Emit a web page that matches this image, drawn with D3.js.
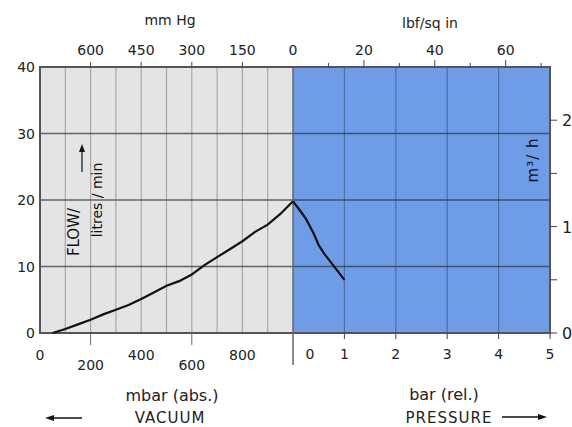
<!DOCTYPE html>
<html><head><meta charset="utf-8">
<script src="https://cdn.jsdelivr.net/npm/d3@7"></script>
<style>
body{margin:0;background:#fff;}
svg{display:block;font-family:"DejaVu Sans",sans-serif;}
</style></head>
<body><svg id="c" width="572" height="427"></svg>
<script>
// Data
const vacuumMbar = [50,100,150,200,250,300,350,400,450,500,550,600,650,700,750,800,850,900,950,1000];
const vacuumFlow = [0,0.6,1.3,2.0,2.8,3.5,4.2,5.1,6.1,7.1,7.8,8.8,10.2,11.4,12.6,13.8,15.2,16.3,17.9,19.8];
const pressureBar = [0,0.1,0.25,0.4,0.5,0.6,0.75,0.9,1.0];
const pressureFlow = [19.8,18.8,17.2,15.0,13.2,12.0,10.5,9.0,8.0];
const flowTicks = [0,10,20,30,40];
const mbarTicks = [0,200,400,600,800];
const barTicks = [0,1,2,3,4,5];
const mmHgTicks = [600,450,300,150,0];
const psiTicks = [20,40,60];
const m3hTicks = [0,1,2];

const svg = d3.select("#c");
const L=40, M=293, R=550, T=67, B=333;
const xV = d3.scaleLinear().domain([0,1000]).range([L,M]);
const xP = d3.scaleLinear().domain([0,5]).range([M,R]);
const y = d3.scaleLinear().domain([0,40]).range([B,T]);
const yR = d3.scaleLinear().domain([0,2.5]).range([B,T]);
const xHg = d3.scaleLinear().domain([750,0]).range([L,M]);
const xPsi = d3.scaleLinear().domain([0,72.5]).range([M,R]);

// backgrounds
svg.append("rect").attr("x",L).attr("y",T).attr("width",M-L).attr("height",B-T).attr("fill","#e4e4e4");
svg.append("rect").attr("x",M).attr("y",T).attr("width",R-M).attr("height",B-T).attr("fill","#6e9ce6");

// vertical grid
svg.append("g").selectAll("line").data(d3.range(100,1000,100)).join("line")
  .attr("x1",d=>xV(d)).attr("x2",d=>xV(d)).attr("y1",T).attr("y2",B)
  .attr("stroke","#a8a8a8").attr("stroke-width",1.2);
svg.append("g").selectAll("line").data([1,2,3,4]).join("line")
  .attr("x1",d=>xP(d)).attr("x2",d=>xP(d)).attr("y1",T).attr("y2",B)
  .attr("stroke","#4a6ea8").attr("stroke-width",1.2);
// horizontal grid
svg.append("g").selectAll("line").data([10,20,30]).join("line")
  .attr("x1",L).attr("x2",R).attr("y1",d=>y(d)).attr("y2",d=>y(d))
  .attr("stroke","#333a48").attr("stroke-opacity",0.75).attr("stroke-width",1.6);

// frame
svg.append("rect").attr("x",L).attr("y",T).attr("width",R-L).attr("height",B-T)
  .attr("fill","none").attr("stroke","#555").attr("stroke-width",2);
svg.append("line").attr("x1",M).attr("x2",M).attr("y1",T).attr("y2",B+32)
  .attr("stroke","#666").attr("stroke-width",1.5);

// curves
const line = (xs)=>d3.line().x(d=>xs(d[0])).y(d=>y(d[1])).curve(d3.curveLinear);
svg.append("path").datum(vacuumMbar.map((m,i)=>[m,vacuumFlow[i]]))
  .attr("d",line(xV)).attr("fill","none").attr("stroke","#111").attr("stroke-width",2.2);
svg.append("path").datum(pressureBar.map((b,i)=>[b,pressureFlow[i]]))
  .attr("d",line(xP)).attr("fill","none").attr("stroke","#111").attr("stroke-width",2.2);

const txt = (x,yy,s,opt={})=>svg.append("text").attr("x",x).attr("y",yy).text(s)
  .attr("font-size",opt.fs||13).attr("fill",opt.fill||"#222").attr("text-anchor",opt.anchor||"middle")
  .attr("letter-spacing",opt.ls||0);

// left axis labels
flowTicks.forEach(d=>txt(35,y(d)+5,d,{anchor:"end",fs:14}));
// bottom vacuum labels (staggered)
mbarTicks.forEach((d,i)=>txt(xV(d),(i%2? 370:360),d,{fs:14}));
svg.append("g").selectAll("line").data([200,600]).join("line")
  .attr("x1",d=>xV(d)).attr("x2",d=>xV(d)).attr("y1",B).attr("y2",B+12).attr("stroke","#666");
// bottom pressure labels
barTicks.forEach(d=>txt(d===0? xP(d)+17 : xP(d),359,d,{fs:14}));
svg.append("g").selectAll("line").data(barTicks.slice(1)).join("line")
  .attr("x1",d=>xP(d)).attr("x2",d=>xP(d)).attr("y1",B).attr("y2",B+6).attr("stroke","#444");

// top mmHg axis
svg.append("g").selectAll("line").data(mmHgTicks.slice(0,4)).join("line")
  .attr("x1",d=>xHg(d)).attr("x2",d=>xHg(d)).attr("y1",T-5).attr("y2",T).attr("stroke","#444");
mmHgTicks.forEach(d=>txt(xHg(d),55,d,{fs:14}));
txt(170,25,"mm Hg",{fs:14});
// top psi axis
svg.append("g").selectAll("line").data(d3.range(10,80,10)).join("line")
  .attr("x1",d=>xPsi(d)).attr("x2",d=>xPsi(d)).attr("y1",d=>T-(d%20===0?7:4)).attr("y2",T).attr("stroke","#444");
psiTicks.forEach(d=>txt(xPsi(d),55,d,{fs:14}));
txt(430,28,"lbf/sq in",{fs:14});

// right m3/h axis
svg.append("g").selectAll("line").data([0,0.5,1,1.5,2]).join("line")
  .attr("x1",R).attr("x2",R+7).attr("y1",d=>yR(d)).attr("y2",d=>yR(d)).attr("stroke","#444");
m3hTicks.forEach(d=>txt(562,yR(d)+6,d,{anchor:"start",fs:16}));
svg.append("text").attr("transform","translate(538,160) rotate(-90)")
  .attr("text-anchor","middle").attr("font-size",15).attr("letter-spacing",1).attr("fill","#111").text("m³/ h");

// flow label
svg.append("text").attr("transform","translate(79,232) rotate(-90)")
  .attr("text-anchor","middle").attr("font-size",15).attr("fill","#111").text("FLOW/");
svg.append("text").attr("transform","translate(102,200) rotate(-90)")
  .attr("text-anchor","middle").attr("font-size",14).attr("fill","#111").text("litres / min");
svg.append("line").attr("x1",82).attr("x2",82).attr("y1",172).attr("y2",150).attr("stroke","#111").attr("stroke-width",1.2);
svg.append("path").attr("d","M82,144 L79,152 L85,152 Z").attr("fill","#111");

// bottom titles
txt(172,401,"mbar (abs.)",{fs:16});
txt(170,423,"VACUUM",{fs:15,ls:1});
txt(444,400,"bar (rel.)",{fs:16});
txt(449,423,"PRESSURE",{fs:15,ls:1});
// arrows
svg.append("line").attr("x1",52).attr("x2",82).attr("y1",418).attr("y2",418).attr("stroke","#111").attr("stroke-width",1.5);
svg.append("path").attr("d","M45,418 L54,415 L54,421 Z").attr("fill","#111");
svg.append("line").attr("x1",502).attr("x2",539).attr("y1",417).attr("y2",417).attr("stroke","#111").attr("stroke-width",1.5);
svg.append("path").attr("d","M547,417 L538,414 L538,420 Z").attr("fill","#111");
</script></body></html>
